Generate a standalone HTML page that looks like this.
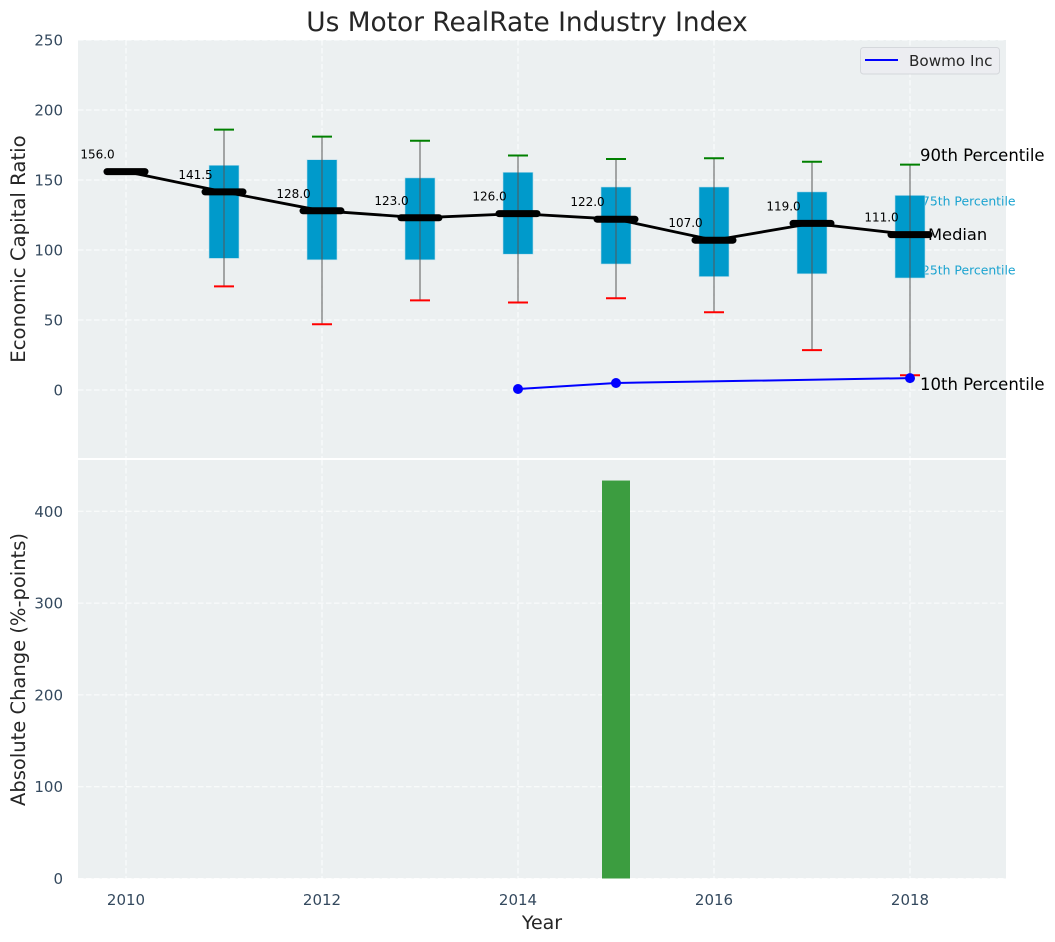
<!DOCTYPE html>
<html>
<head>
<meta charset="utf-8">
<title>Us Motor RealRate Industry Index</title>
<style>
html,body{margin:0;padding:0;background:#fff;width:1055px;height:942px;overflow:hidden}
svg{display:block}
text{font-family:"DejaVu Sans","Liberation Sans",sans-serif}
</style>
</head>
<body>
<svg id="chart" width="1055" height="942" viewBox="0 0 1055 942" xmlns="http://www.w3.org/2000/svg"></svg>
<script>
const years = [2010, 2011, 2012, 2013, 2014, 2015, 2016, 2017, 2018];
const medians = [156, 141.5, 128, 123, 126, 122, 107, 119, 111];
const boxYears = [2011, 2012, 2013, 2014, 2015, 2016, 2017, 2018];
const p25 = [94, 93, 93, 97, 90, 81, 83, 80];
const p75 = [160.5, 164.5, 151.5, 155.5, 145, 145, 141.5, 139];
const p90 = [186, 181, 178, 167.5, 165, 165.5, 163, 161];
const p10 = [74, 47, 64, 62.5, 65.5, 55.5, 28.5, 10.5];
const companyYears = [2014, 2015, 2018];
const companyValues = [0.7, 5, 8.5];
const changeYears = [2015];
const changeValues = [433.5];
const xTicks = [2010, 2012, 2014, 2016, 2018];
const topYTicks = [0, 50, 100, 150, 200, 250];
const bottomYTicks = [0, 100, 200, 300, 400];

const X = v => 126 + (v - 2010) * 98;
const Y1 = v => 390 - v * 1.4;
const Y2 = v => 878.5 - v * 0.918;
const svg = document.getElementById('chart');
const NS = 'http://www.w3.org/2000/svg';
function mk(tag, attrs, txt) {
  const e = document.createElementNS(NS, tag);
  for (const k in attrs) e.setAttribute(k, attrs[k]);
  if (txt !== undefined) e.textContent = txt;
  svg.appendChild(e);
  return e;
}
let el;
const L = 78, R = 1006;

el = mk('rect', {x: L, y: 40, width: R - L, height: 418, fill: '#ecf0f1'});


el = mk('rect', {x: L, y: 460, width: R - L, height: 418.5, fill: '#ecf0f1'});



const gridStyle = {stroke: '#fff', 'stroke-width': 1, 'stroke-dasharray': '5.5 2.5', fill: 'none', opacity: 0.9};
xTicks.forEach(t => {
  el = mk('line', Object.assign({x1: X(t), x2: X(t), y1: 40, y2: 458}, gridStyle));
  
  
  el = mk('line', Object.assign({x1: X(t), x2: X(t), y1: 460, y2: 878.5}, gridStyle));
  
  
  el = mk('text', {x: X(t), y: 905, 'font-size': 15, fill: '#34495e', 'text-anchor': 'middle'}, String(t));
  
  
});
topYTicks.forEach(t => {
  el = mk('line', Object.assign({x1: L, x2: R, y1: Y1(t), y2: Y1(t)}, gridStyle));
  
  
  el = mk('text', {x: 63, y: Y1(t) + 5.5, 'font-size': 15, fill: '#34495e', 'text-anchor': 'end'}, String(t));
  
  
});
bottomYTicks.forEach(t => {
  el = mk('line', Object.assign({x1: L, x2: R, y1: Y2(t), y2: Y2(t)}, gridStyle));
  
  
  el = mk('text', {x: 63, y: Y2(t) + 5.5, 'font-size': 15, fill: '#34495e', 'text-anchor': 'end'}, String(t));
  
  
});

el = mk('text', {x: 527, y: 31, 'font-size': 26.4, fill: '#262626', 'text-anchor': 'middle'}, 'Us Motor RealRate Industry Index');


el = mk('text', {x: 542, y: 929, 'font-size': 19, fill: '#262626', 'text-anchor': 'middle'}, 'Year');


el = mk('text', {x: 0, y: 0, 'font-size': 19.7, fill: '#262626', 'text-anchor': 'middle', transform: 'translate(25 249) rotate(-90)'}, 'Economic Capital Ratio');


el = mk('text', {x: 0, y: 0, 'font-size': 19.5, fill: '#262626', 'text-anchor': 'middle', transform: 'translate(25 669.5) rotate(-90)'}, 'Absolute Change (%-points)');



const lastBox = boxYears.length - 1;
const labelX = X(boxYears[lastBox]);
el = mk('text', {x: labelX + 10, y: 161, 'font-size': 16.5, fill: '#000'}, '90th Percentile');


el = mk('text', {x: labelX + 10, y: 390, 'font-size': 16.5, fill: '#000'}, '10th Percentile');


el = mk('text', {x: labelX + 18, y: 240, 'font-size': 16.3, fill: '#000'}, 'Median');


el = mk('text', {x: labelX + 12, y: 205.5, 'font-size': 12.4, fill: '#1ba3d0'}, '75th Percentile');


el = mk('text', {x: labelX + 12, y: 274.5, 'font-size': 12.4, fill: '#1ba3d0'}, '25th Percentile');



boxYears.forEach((yr, i) => {
  el = mk('rect', {x: X(yr) - 15, y: Y1(p75[i]), width: 30, height: Y1(p25[i]) - Y1(p75[i]), fill: '#009acb', stroke: '#b9dcea', 'stroke-width': 0.6});
  
  
});

el = mk('polyline', {points: years.map((y, i) => X(y) + ',' + Y1(medians[i])).join(' '), fill: 'none', stroke: '#000', 'stroke-width': 2.8});



boxYears.forEach((yr, i) => {
  el = mk('line', {x1: X(yr), x2: X(yr), y1: Y1(p90[i]), y2: Y1(p10[i]), stroke: '#555', 'stroke-opacity': 0.7, 'stroke-width': 1.4});
  
  
  el = mk('line', {x1: X(yr) - 10, x2: X(yr) + 10, y1: Y1(p90[i]), y2: Y1(p90[i]), stroke: '#008000', 'stroke-width': 2});
  
  
  el = mk('line', {x1: X(yr) - 10, x2: X(yr) + 10, y1: Y1(p10[i]), y2: Y1(p10[i]), stroke: '#ff0000', 'stroke-width': 2});
  
  
});

years.forEach((yr, i) => {
  el = mk('line', {x1: X(yr) - 19, x2: X(yr) + 19, y1: Y1(medians[i]), y2: Y1(medians[i]), stroke: '#000', 'stroke-width': 7, 'stroke-linecap': 'round'});
  
  
  el = mk('text', {x: X(yr) - 28.5, y: Y1(medians[i]) - 13, 'font-size': 12, fill: '#000', 'text-anchor': 'middle'}, medians[i].toFixed(1));
  
  
});

el = mk('polyline', {points: companyYears.map((y, i) => X(y) + ',' + Y1(companyValues[i])).join(' '), fill: 'none', stroke: '#0000ff', 'stroke-width': 2});


companyYears.forEach((yr, i) => {
  el = mk('circle', {cx: X(yr), cy: Y1(companyValues[i]), r: 5, fill: '#0000ff'});
  
  
});

changeYears.forEach((yr, i) => {
  el = mk('rect', {x: X(yr) - 14, y: Y2(changeValues[i]), width: 28, height: Y2(0) - Y2(changeValues[i]), fill: '#3c9d40'});
  
  
});

el = mk('rect', {x: 860.5, y: 47.5, width: 139, height: 26.5, rx: 3, fill: '#ecedf1', stroke: '#d5d8dc', 'stroke-width': 1});


el = mk('line', {x1: 865, x2: 898, y1: 60, y2: 60, stroke: '#0000ff', 'stroke-width': 2});


el = mk('text', {x: 909, y: 66, 'font-size': 15.2, fill: '#262626'}, 'Bowmo Inc');


</script>
</body>
</html>
